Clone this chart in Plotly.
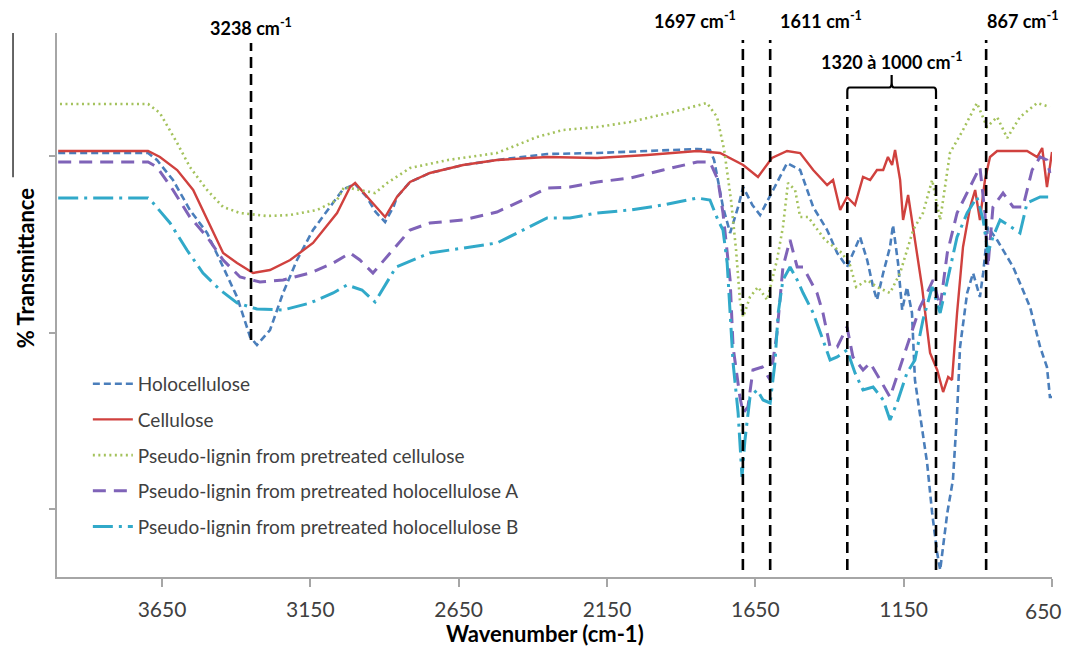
import plotly.graph_objects as go

# ---------------- data (wavenumber cm-1, % transmittance, arbitrary units) ----------------
holo_x = [4000, 3697, 3667, 3613, 3556, 3498, 3444, 3397, 3353, 3330, 3286, 3242, 3195, 3141, 3084, 3040,
          2999, 2960, 2930, 2898, 2870, 2858, 2814, 2747, 2635, 2521, 2352, 2183, 2015, 1846, 1803, 1789,
          1759, 1735, 1708, 1691, 1660, 1634, 1590, 1543, 1499, 1455, 1408, 1374, 1341, 1297, 1273, 1253,
          1240, 1219, 1196, 1186, 1169, 1155, 1139, 1122, 1112, 1095, 1071, 1054, 1037, 1027, 1003, 984,
          970, 960, 936, 916, 893, 882, 866, 835, 781, 724, 690, 667, 657, 650]
holo_y = [84.8, 84.8, 83.4, 79.4, 73.4, 68.8, 62.0, 56.0, 48.0, 46.4, 49.4, 56.8, 63.4, 69.4, 74.0, 77.5,
          78.6, 76.0, 73.0, 71.0, 74.0, 76.0, 79.0, 80.8, 82.4, 83.4, 84.6, 84.8, 85.2, 85.6, 85.4, 83.4,
          74.0, 68.8, 74.0, 78.0, 74.4, 72.4, 77.4, 82.8, 81.4, 74.0, 69.4, 64.8, 62.0, 68.0, 63.4, 58.0,
          55.4, 60.8, 66.0, 70.4, 62.8, 53.4, 58.0, 52.8, 39.4, 32.8, 22.8, 12.8, 4.8, 1.4, 12.8, 19.4,
          32.8, 46.0, 56.8, 60.8, 56.0, 60.8, 70.0, 67.4, 62.0, 54.0, 46.0, 42.0, 36.0, 36.0]

cell_x = [4000, 3697, 3657, 3599, 3545, 3498, 3478, 3444, 3397, 3343, 3286, 3218, 3141, 3060, 3016, 2999,
          2949, 2898, 2858, 2814, 2747, 2635, 2521, 2352, 2183, 2015, 1846, 1769, 1691, 1641, 1594, 1543,
          1499, 1455, 1408, 1388, 1364, 1341, 1314, 1287, 1263, 1240, 1219, 1203, 1189, 1179, 1162, 1152,
          1135, 1118, 1088, 1061, 1037, 1017, 1000, 987, 970, 950, 926, 909, 893, 876, 859, 835, 734,
          700, 683, 667, 650]
cell_y = [85.2, 85.2, 84.0, 81.4, 77.4, 71.4, 69.0, 64.8, 62.8, 60.8, 61.4, 63.4, 66.8, 72.8, 78.0, 78.8,
          75.4, 72.0, 76.0, 79.0, 80.8, 82.4, 83.4, 84.0, 83.8, 84.4, 85.2, 84.8, 82.4, 80.0, 83.8, 85.2,
          84.8, 81.4, 78.4, 79.4, 73.4, 76.0, 74.4, 80.0, 79.4, 81.4, 81.4, 84.0, 82.4, 85.4, 79.4, 71.4,
          76.4, 69.4, 58.0, 44.8, 41.4, 37.0, 40.0, 39.4, 52.8, 66.0, 74.0, 77.4, 71.4, 79.4, 84.0, 85.2, 85.2,
          84.0, 85.8, 78.0, 85.0]

plc_x = [3994, 3697, 3657, 3599, 3556, 3498, 3444, 3387, 3296, 3218, 3127, 3060, 3036, 2989, 2932, 2891,
         2814, 2686, 2521, 2386, 2298, 2183, 2072, 1941, 1836, 1813, 1779, 1755, 1732, 1715, 1702, 1691,
         1668, 1641, 1610, 1577, 1557, 1540, 1516, 1499, 1472, 1415, 1358, 1331, 1310, 1273, 1240, 1196,
         1162, 1118, 1085, 1054, 1027, 994, 950, 903, 869, 835, 801, 758, 700, 657]
plc_y = [94.6, 94.6, 92.8, 86.8, 82.0, 77.4, 74.0, 72.8, 72.2, 72.4, 73.4, 75.4, 78.0, 77.4, 76.8, 78.8,
         81.8, 83.4, 84.8, 88.0, 89.4, 90.0, 91.0, 92.8, 94.4, 94.8, 92.0, 85.4, 75.4, 65.4, 55.4, 52.0,
         56.0, 58.0, 55.4, 63.4, 70.0, 78.8, 77.4, 72.0, 72.0, 67.4, 64.8, 62.4, 58.0, 59.4, 58.0, 56.8,
         60.8, 69.4, 72.8, 79.4, 71.4, 84.8, 89.4, 94.8, 90.0, 92.0, 87.8, 92.0, 94.8, 94.0]

pla_x = [4000, 3697, 3667, 3613, 3556, 3498, 3444, 3387, 3320, 3242, 3151, 3073, 3016, 2983, 2939, 2881,
         2814, 2747, 2635, 2521, 2433, 2352, 2275, 2183, 2072, 1961, 1846, 1803, 1776, 1759, 1735, 1725,
         1702, 1691, 1675, 1658, 1627, 1600, 1577, 1557, 1533, 1509, 1489, 1442, 1422, 1398, 1374, 1341,
         1321, 1287, 1263, 1229, 1196, 1162, 1129, 1095, 1071, 1051, 1027, 1003, 970, 936, 916, 893, 876,
         866, 849, 815, 781, 748, 717, 690, 667, 657]
pla_y = [83.0, 83.0, 82.0, 77.4, 72.0, 68.0, 63.4, 60.0, 59.0, 59.4, 60.8, 62.8, 64.8, 63.4, 60.8, 64.8,
         69.4, 70.8, 71.4, 73.0, 75.4, 77.8, 78.0, 79.0, 79.8, 81.4, 83.0, 83.0, 79.4, 72.8, 59.4, 46.0,
         36.0, 32.8, 34.0, 41.4, 42.0, 39.4, 48.8, 62.0, 67.4, 62.0, 62.0, 56.8, 52.8, 46.0, 46.0, 50.0,
         44.0, 41.4, 42.8, 39.4, 36.0, 42.0, 48.0, 54.0, 56.8, 59.4, 54.0, 64.8, 72.8, 76.8, 79.4, 82.0, 72.8,
         62.0, 74.0, 76.8, 74.0, 74.0, 81.4, 84.0, 83.4, 80.8]

plb_x = [4000, 3697, 3680, 3623, 3566, 3512, 3454, 3397, 3330, 3242, 3151, 3073, 3026, 2976, 2932, 2861,
         2747, 2612, 2521, 2453, 2352, 2275, 2183, 2072, 1961, 1846, 1803, 1776, 1759, 1745, 1735, 1725,
         1708, 1695, 1685, 1668, 1644, 1624, 1600, 1584, 1573, 1557, 1533, 1509, 1489, 1455, 1422, 1398,
         1374, 1354, 1341, 1314, 1287, 1253, 1219, 1196, 1169, 1139, 1112, 1085, 1054, 1027, 1003, 970,
         936, 903, 882, 866, 849, 825, 788, 758, 734, 690, 663]
plb_y = [75.8, 75.8, 74.8, 70.8, 65.4, 60.8, 57.4, 54.8, 53.6, 53.4, 54.8, 56.8, 58.4, 57.4, 55.0, 62.0,
         64.8, 66.0, 66.8, 68.8, 71.8, 71.8, 72.8, 73.4, 74.4, 75.8, 75.4, 71.4, 69.4, 62.8, 52.8, 42.8,
         32.8, 20.0, 27.4, 36.0, 37.4, 35.4, 34.8, 42.8, 52.8, 59.4, 62.0, 59.4, 56.8, 52.8, 47.4, 43.4,
         44.0, 44.8, 45.4, 40.8, 37.4, 38.0, 35.4, 31.4, 35.4, 40.8, 43.4, 51.4, 58.0, 52.8, 59.4, 68.0,
         72.8, 76.0, 71.4, 64.8, 68.0, 71.4, 70.0, 68.8, 74.8, 76.0, 76.0]

series_names = ["Holocellulose", "Cellulose", "Pseudo-lignin from pretreated cellulose",
                "Pseudo-lignin from pretreated holocellulose A",
                "Pseudo-lignin from pretreated holocellulose B"]

x_ticks = [3650, 3150, 2650, 2150, 1650, 1150, 650]
y_ticks = [13.6, 48.8, 84.2]

# marker lines: drawn position, top, bottom
band_pos = [3350, 1692, 1600, 1340, 1041, 872]
band_top = [106.8, 107.4, 107.4, 94.4, 94.4, 107.4]
band_bottom = [47.4, 1.4, 1.4, 1.4, 1.4, 1.4]

# ---------------- figure ----------------
styles = [
    dict(color="#4a7ebb", width=2.6, dash="7px,4px"),
    dict(color="#d0413e", width=2.4, dash="solid"),
    dict(color="#a4c25c", width=2.6, dash="2px,3.5px"),
    dict(color="#7f63b8", width=3.0, dash="13px,8px"),
    dict(color="#31a9c9", width=3.0, dash="20px,6px,3px,6px"),
]
data = [(holo_x, holo_y), (cell_x, cell_y), (plc_x, plc_y), (pla_x, pla_y), (plb_x, plb_y)]

fig = go.Figure()
for name, (xs, ys), st in zip(series_names, data, styles):
    fig.add_trace(go.Scatter(x=xs, y=ys, mode="lines", name=name, line=st,
                             legendgroup=name, showlegend=True))

# vertical dashed marker lines
for pos, top, bot in zip(band_pos, band_top, band_bottom):
    fig.add_shape(type="line", xref="x", yref="y", x0=pos, x1=pos, y0=bot, y1=top,
                  line=dict(color="black", width=2.6, dash="11px,6px"))

# bracket over 1320-1000 region
bx0, bx1 = band_pos[3], band_pos[4]
bmid = (bx0 + bx1) / 2
fig.add_shape(type="path", xref="x", yref="y",
              path=(f"M {bx0},95.6 L {bx0},97.2 Q {bx0},97.9 {bx0-8},97.9 "
                    f"L {bmid+8},97.9 Q {bmid},97.9 {bmid},99.0 L {bmid},100.4 "
                    f"M {bmid},99.0 Q {bmid},97.9 {bmid-8},97.9 "
                    f"L {bx1+8},97.9 Q {bx1},97.9 {bx1},97.2 L {bx1},95.6"),
              line=dict(color="black", width=2.2))

lab_font = dict(family="Lato", size=18, color="black")
fig.add_annotation(x=band_pos[0], y=1.011, xref="x", yref="paper", text="<b>3238 cm<sup>-1</sup></b>",
                   showarrow=False, xanchor="center", yanchor="middle", font=lab_font)
fig.add_annotation(x=1708, y=1.024, xref="x", yref="paper", text="<b>1697 cm<sup>-1</sup></b>",
                   showarrow=False, xanchor="right", yanchor="middle", font=lab_font)
fig.add_annotation(x=1573, y=1.024, xref="x", yref="paper", text="<b>1611 cm<sup>-1</sup></b>",
                   showarrow=False, xanchor="left", yanchor="middle", font=lab_font)
fig.add_annotation(x=875, y=1.024, xref="x", yref="paper", text="<b>867 cm<sup>-1</sup></b>",
                   showarrow=False, xanchor="left", yanchor="middle", font=lab_font)
fig.add_annotation(x=bmid, y=103.2, xref="x", yref="y", text="<b>1320 à 1000 cm<sup>-1</sup></b>",
                   showarrow=False, xanchor="center", yanchor="middle", font=lab_font)

# axis titles as annotations
fig.add_annotation(x=-0.032, y=0.568, xref="paper", yref="paper", text="<b>% Transmittance</b>",
                   textangle=-90, showarrow=False, xanchor="center", yanchor="middle",
                   font=dict(family="Lato", size=22, color="black"))
fig.add_annotation(x=0.49, y=-0.1324, xref="paper", yref="paper", text="<b>Wavenumber (cm-1)</b>",
                   showarrow=False, xanchor="center", yanchor="bottom",
                   font=dict(family="Lato", size=22, color="black"))
# last tick label sits at the window edge: written as a right-aligned text so it stays inside
tick_font = dict(family="Lato", size=21, color="#404040")
x_tick_text = [str(v) for v in x_ticks[:-1]] + [""]
fig.add_annotation(x=1.012, y=-0.0607, xref="paper", yref="paper", text=str(x_ticks[-1]),
                   showarrow=False, xanchor="right", yanchor="middle", font=tick_font)
# stray vertical rule at far left
fig.add_shape(type="line", xref="paper", yref="paper", x0=-0.0442, x1=-0.0442, y0=1.0, y1=0.735,
              line=dict(color="#333333", width=1.5))

# the page body keeps its default 8px margin: the figure is sized and its margins set so that the
# plot area lands where the reference draws it inside the 1074x657 window
fig.update_layout(
    width=1058, height=641,
    margin=dict(l=49, r=14, t=25, b=72),
    paper_bgcolor="white", plot_bgcolor="white",
    font=dict(family="Lato", color="#404040"),
    legend=dict(x=0.031, y=0.39, xanchor="left", yanchor="top", bgcolor="rgba(0,0,0,0)",
                font=dict(family="Lato", size=19, color="#404040"), tracegroupgap=8,
                itemwidth=40),
    showlegend=True,
)
fig.update_xaxes(range=[4004, 650], tickvals=x_ticks, ticktext=x_tick_text, showgrid=False,
                 zeroline=False, showline=True, linecolor="#a6a6a6", linewidth=1.5, ticks="outside",
                 tickcolor="#a6a6a6", ticklen=8, tickwidth=1.5, ticklabelstandoff=5,
                 tickfont=tick_font)
fig.update_yaxes(range=[0, 108.8], tickvals=y_ticks, showticklabels=False, showgrid=False,
                 zeroline=False, showline=True, linecolor="#a6a6a6", linewidth=1.5,
                 ticks="outside", tickcolor="#a6a6a6", ticklen=6, tickwidth=1.5)

fig.write_html("out.html", config={"displayModeBar": False})
